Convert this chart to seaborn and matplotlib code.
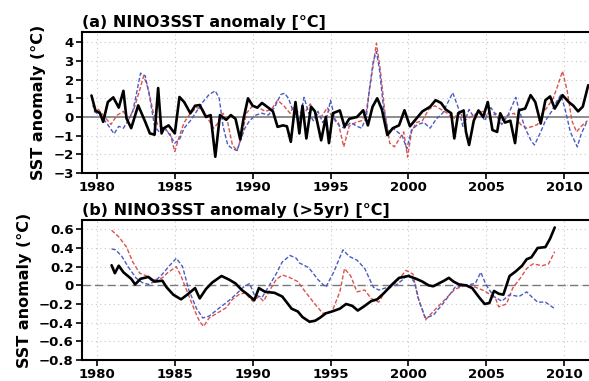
import numpy as np
import pandas as pd
import matplotlib
matplotlib.use("Agg")
import matplotlib.pyplot as plt
import seaborn as sns

# ---- panel (a): NINO3 SST anomaly ----
obs_a_year = [1979.65, 1979.9, 1980.2, 1980.4, 1980.7, 1981.05, 1981.4, 1981.7, 1981.9, 1982.2,
              1982.65, 1983.1, 1983.4, 1983.7, 1983.93, 1984.15, 1984.3, 1984.6, 1985.0, 1985.3,
              1985.6, 1986.0, 1986.3, 1986.6, 1987.0, 1987.3, 1987.6, 1987.9, 1988.3, 1988.6,
              1988.9, 1989.2, 1989.4, 1989.7, 1990.0, 1990.3, 1990.6, 1991.0, 1991.3, 1991.6,
              1991.95, 1992.2, 1992.45, 1992.75, 1993.0, 1993.2, 1993.45, 1993.75, 1994.0, 1994.4,
              1994.7, 1994.9, 1995.15, 1995.6, 1995.9, 1996.2, 1996.7, 1997.1, 1997.4, 1997.7,
              1998.0, 1998.3, 1998.65, 1999.0, 1999.4, 1999.75, 2000.1, 2000.5, 2000.9, 2001.4,
              2001.75, 2002.1, 2002.4, 2002.75, 2002.95, 2003.2, 2003.55, 2003.7, 2003.9, 2004.2,
              2004.5, 2004.8, 2005.1, 2005.4, 2005.7, 2005.9, 2006.2, 2006.55, 2006.85, 2007.1,
              2007.5, 2007.85, 2008.15, 2008.5, 2008.8, 2009.1, 2009.4, 2009.9, 2010.3, 2010.6,
              2010.9, 2011.2, 2011.55]
obs_a_sst = [1.15, 0.35, 0.2, -0.26, 0.8, 1.05, 0.5, 1.4, -0.08, -0.6,
             0.62, -0.26, -0.88, -0.95, 1.55, -0.88, -0.6, -0.45, -0.88, 1.07,
             0.8, 0.2, 0.6, 0.64, 0.0, 0.1, -2.13, 0.1, -0.15, 0.1,
             -0.1, -1.2, -0.15, 1.0, 0.6, 0.5, 0.75, 0.5, 0.3, -0.53,
             -0.45, -0.5, -1.33, 0.8, -0.88, 0.6, -1.15, 0.55, 0.3, -1.25,
             0.0, -1.4, 0.2, 0.35, -0.52, -0.1, 0.0, 0.36, -0.45, 0.55,
             1.0, 0.4, -0.97, -0.6, -0.45, 0.36, -0.5, -0.1, 0.3, 0.55,
             0.9, 0.75, 0.4, 0.2, -1.15, 0.2, 0.35, -0.8, -1.5, -0.2,
             0.35, 0.0, 0.8, -0.7, -0.8, 0.2, -0.3, -0.2, -1.4, 0.36,
             0.45, 1.17, 0.8, -0.35, 0.9, 1.1, 0.45, 1.17, 0.8, 0.6,
             0.3, 0.55, 1.7]

red_a_year = [1979.7, 1980.1, 1980.5, 1980.9, 1981.3, 1981.7, 1982.0, 1982.4, 1982.8, 1983.0,
              1983.3, 1983.6, 1983.9, 1984.3, 1984.7, 1985.0, 1985.3, 1985.6, 1986.0, 1986.4,
              1986.8, 1987.2, 1987.5, 1987.8, 1988.1, 1988.4, 1988.7, 1989.0, 1989.3, 1989.6,
              1990.0, 1990.4, 1990.8, 1991.2, 1991.6, 1992.0, 1992.4, 1992.6, 1993.0, 1993.4,
              1993.7, 1994.0, 1994.4, 1994.8, 1995.1, 1995.5, 1995.85, 1996.2, 1996.6, 1997.0,
              1997.3, 1997.6, 1997.95, 1998.2, 1998.5, 1998.8, 1999.1, 1999.4, 1999.7, 1999.95,
              2000.2, 2000.5, 2000.9, 2001.3, 2001.7, 2002.1, 2002.5, 2002.9, 2003.3, 2003.6,
              2004.0, 2004.4, 2004.8, 2005.2, 2005.6, 2006.0, 2006.4, 2006.8, 2007.2, 2007.6,
              2008.0, 2008.3, 2008.6, 2008.9, 2009.3, 2009.6, 2009.9, 2010.2, 2010.5, 2010.8,
              2011.1, 2011.5]
red_a_sst = [0.6, 0.4, 0.0, -0.4, 0.1, 0.3, -0.2, 0.5, 1.6, 2.2,
             1.5, 0.3, -0.4, -0.6, -0.9, -1.85, -1.0, -0.3, 0.2, 0.5,
             0.4, -0.2, -0.6, -0.3, 0.2, -0.3, -1.5, -1.8, -1.0, 0.2,
             0.6, 0.5, 0.3, 0.4, 0.9, 0.6, 0.2, 0.5, 0.2, 0.3,
             0.7, 0.2, 0.0, 0.5, 0.0, -0.3, -1.6, -0.5, -0.3, -0.2,
             0.3, 2.0, 3.95, 2.5, 0.2, -1.4, -1.6, -1.2, -0.8, -2.15,
             -0.8, -0.3, -0.2, 0.4, 0.6, 0.4, 0.2, -0.1, 0.3, -0.2,
             0.0, 0.2, 0.3, -0.1, 0.2, -0.2, 0.1, 0.2, -0.4, -0.6,
             -0.5, -0.4, 0.2, 0.5, 1.0, 1.7, 2.45, 1.4, -0.2, -0.8,
             -0.5, -0.2]

blue_a_year = [1979.8, 1980.2, 1980.6, 1981.1, 1981.4, 1981.7, 1982.0, 1982.3, 1982.55, 1982.8,
               1983.1, 1983.4, 1983.7, 1984.0, 1984.3, 1984.7, 1985.0, 1985.3, 1985.6, 1986.0,
               1986.4, 1986.8, 1987.2, 1987.6, 1987.85, 1988.1, 1988.4, 1988.7, 1989.0, 1989.2,
               1989.5, 1989.8, 1990.2, 1990.6, 1991.0, 1991.4, 1991.8, 1992.05, 1992.3, 1992.6,
               1993.0, 1993.3, 1993.6, 1993.9, 1994.2, 1994.5, 1994.8, 1995.0, 1995.3, 1995.6,
               1995.9, 1996.3, 1996.7, 1997.0, 1997.3, 1997.5, 1997.75, 1997.95, 1998.15, 1998.4,
               1998.7, 1999.0, 1999.3, 1999.6, 1999.9, 2000.2, 2000.6, 2001.0, 2001.4, 2001.8,
               2002.2, 2002.55, 2002.85, 2003.2, 2003.5, 2003.9, 2004.2, 2004.6, 2004.9, 2005.3,
               2005.7, 2006.0, 2006.4, 2006.9, 2007.1, 2007.5, 2007.9, 2008.1, 2008.5, 2008.8,
               2009.2, 2009.5, 2009.8, 2010.1, 2010.4, 2010.85, 2011.1, 2011.5]
blue_a_sst = [0.3, 0.1, -0.3, -0.9, -0.5, -0.6, -0.2, 0.3, 1.3, 2.35,
              2.2, 1.0, -0.5, -0.8, -0.5, -1.0, -1.4, -1.2, -0.6, -0.2,
              0.3, 0.8, 1.2, 1.4, 1.0, -0.5, -1.5, -1.7, -1.8, -1.3,
              -0.6, -0.2, 0.1, 0.2, 0.1, 0.5, 1.2, 1.27, 1.0, 0.3,
              -0.2, 1.05, 0.2, -0.2, 0.3, -0.3, 0.1, 0.9, -0.2, -0.5,
              -0.6, -0.3, -0.5, -0.6, 0.0, 1.5, 3.0, 3.5, 2.5, 0.5,
              -0.8, -0.6, -0.8, -1.0, -1.7, -0.7, -0.4, -0.3, -0.6, -0.1,
              0.2, 0.8, 1.3, 0.5, -0.5, 0.4, 0.0, 0.3, -0.2, 0.5,
              0.0, -0.4, 0.1, 1.05, 0.4, -0.6, -1.3, -1.5, -0.8, -0.2,
              0.3, 0.8, 1.2, 0.3, -0.8, -1.6, -0.9, -0.2]

# ---- panel (b): NINO3 SST anomaly, >5yr band ----
obs_b_year = [1980.94, 1981.15, 1981.4, 1981.7, 1982.2, 1982.45, 1982.8, 1983.3, 1983.7, 1984.2,
              1984.47, 1984.9, 1985.4, 1985.8, 1986.3, 1986.6, 1987.0, 1987.4, 1988.0, 1988.5,
              1988.9, 1989.3, 1989.7, 1990.1, 1990.4, 1990.8, 1991.4, 1991.9, 1992.5, 1992.9,
              1993.2, 1993.65, 1994.0, 1994.3, 1994.7, 1995.1, 1995.6, 1996.0, 1996.4, 1996.75,
              1997.2, 1997.6, 1998.0, 1998.45, 1998.9, 1999.4, 1999.7, 2000.0, 2000.5, 2000.9,
              2001.3, 2001.6, 2001.95, 2002.3, 2002.6, 2002.9, 2003.25, 2003.7, 2004.1, 2004.55,
              2004.9, 2005.2, 2005.5, 2005.8, 2006.1, 2006.5, 2006.9, 2007.3, 2007.6, 2007.9,
              2008.3, 2008.8, 2009.1, 2009.4]
obs_b_sst = [0.215, 0.13, 0.21, 0.14, 0.07, 0.01, 0.07, 0.09, 0.04, 0.05,
             -0.02, -0.1, -0.15, -0.1, -0.03, -0.14, -0.04, 0.03, 0.1, 0.06,
             0.02, -0.05, -0.1, -0.16, -0.03, -0.07, -0.08, -0.12, -0.25, -0.28,
             -0.34, -0.39, -0.38, -0.35, -0.3, -0.28, -0.25, -0.2, -0.22, -0.27,
             -0.22, -0.17, -0.15, -0.08, 0.0, 0.08, 0.09, 0.1, 0.07, 0.04,
             0.0, -0.01, 0.02, 0.05, 0.08, 0.04, 0.01, 0.0, -0.03, -0.13,
             -0.2, -0.19, -0.06, -0.09, -0.1, 0.1, 0.15, 0.21, 0.28, 0.3,
             0.4, 0.41, 0.5, 0.62]

red_b_year = [1980.94, 1981.4, 1981.9, 1982.3, 1982.75, 1983.2, 1983.5, 1984.2, 1984.5, 1985.1,
              1985.4, 1985.8, 1986.3, 1986.6, 1986.85, 1987.2, 1987.7, 1988.3, 1988.7, 1989.1,
              1989.5, 1990.0, 1990.4, 1990.7, 1991.0, 1991.5, 1991.9, 1992.3, 1992.9, 1993.2,
              1993.9, 1994.5, 1995.1, 1995.6, 1995.9, 1996.3, 1996.7, 1997.2, 1997.6, 1998.1,
              1998.45, 1999.2, 1999.85, 2000.3, 2000.6, 2000.9, 2001.1, 2001.6, 2002.3, 2003.0,
              2003.7, 2004.3, 2004.9, 2005.6, 2005.8, 2006.3, 2006.7, 2007.2, 2007.6, 2008.0,
              2008.6, 2009.0, 2009.4]
red_b_sst = [0.59, 0.52, 0.41, 0.25, 0.13, 0.1, 0.05, 0.08, 0.13, 0.2,
             0.1, -0.07, -0.28, -0.39, -0.44, -0.35, -0.3, -0.24, -0.15, -0.1,
             -0.08, -0.17, -0.12, -0.17, -0.08, 0.06, 0.11, 0.09, 0.04, -0.03,
             -0.18, -0.3, -0.28, -0.07, 0.18, 0.1, -0.07, -0.05, -0.14, -0.18,
             -0.08, 0.03, 0.16, 0.12, -0.12, -0.26, -0.37, -0.28, -0.16, -0.04,
             0.0, -0.02, -0.06, -0.14, -0.23, -0.2, -0.03, 0.08, 0.18, 0.23,
             0.21, 0.23, 0.36]

blue_b_year = [1980.94, 1981.2, 1981.6, 1982.0, 1982.5, 1982.9, 1983.3, 1983.7, 1984.2, 1984.6,
               1985.1, 1985.5, 1985.9, 1986.4, 1986.8, 1987.2, 1987.8, 1988.5, 1988.9, 1989.4,
               1989.8, 1990.1, 1990.6, 1991.0, 1991.5, 1991.9, 1992.4, 1992.8, 1993.0, 1993.6,
               1994.2, 1994.7, 1995.2, 1995.8, 1996.2, 1996.7, 1997.2, 1997.75, 1998.1, 1998.5,
               1999.2, 1999.7, 2000.0, 2000.4, 2000.7, 2001.1, 2001.6, 2002.3, 2003.0, 2003.7,
               2004.3, 2004.65, 2005.0, 2005.5, 2006.0, 2006.5, 2007.1, 2007.6, 2007.9, 2008.3,
               2008.8, 2009.4]
blue_b_sst = [0.39, 0.38, 0.31, 0.2, 0.08, 0.03, 0.01, 0.04, 0.12, 0.2,
              0.29, 0.2, -0.05, -0.25, -0.35, -0.33, -0.25, -0.16, -0.1, -0.02,
              0.02, -0.1, -0.13, -0.02, 0.12, 0.25, 0.32, 0.29, 0.24, 0.19,
              0.06, -0.02, 0.14, 0.38, 0.31, 0.27, 0.18, -0.02, -0.05, -0.03,
              0.0, 0.07, 0.12, 0.03, -0.18, -0.35, -0.32, -0.18, -0.02, 0.0,
              0.02, 0.14, 0.0, -0.12, -0.17, -0.1, -0.12, -0.07, -0.12, -0.18,
              -0.18, -0.25]

year_ticks = [1980, 1985, 1990, 1995, 2000, 2005, 2010]
ticks_a = [-3, -2, -1, 0, 1, 2, 3, 4]
labels_a = ["\u22123", "\u22122", "\u22121", "0", "1", "2", "3", "4"]
ticks_b = [-0.8, -0.6, -0.4, -0.2, 0, 0.2, 0.4, 0.6]
labels_b = ["\u22120.8", "\u22120.6", "\u22120.4", "\u22120.2", "0", "0.2", "0.4", "0.6"]

RED = "#d9534f"
BLUE = "#4a5cc4"

sns.set_theme(style="white")
plt.rcParams["font.family"] = ["DejaVu Sans"]
plt.rcParams["font.weight"] = "bold"
plt.rcParams["axes.labelweight"] = "bold"
plt.rcParams["text.color"] = "black"
plt.rcParams["axes.labelcolor"] = "black"

fig = plt.figure(figsize=(5.89, 3.81), dpi=100)
W, H = 589.0, 381.0
ax_a = fig.add_axes([82 / W, 1 - 173 / H, (W - 82) / W, 141 / H])
ax_b = fig.add_axes([82 / W, 1 - 360 / H, (W - 82) / W, 140 / H])


def draw_series(ax, year, vals, color, dashed, lw):
    df = pd.DataFrame({"year": year, "sst": vals})
    sns.lineplot(data=df, x="year", y="sst", ax=ax, color=color, lw=lw,
                 estimator=None, sort=False,
                 linestyle=(0, (3, 1.5)) if dashed else "-")


def style_axes(ax, ylim, yticks, ylabels, title):
    ax.set_xlim(1979.04, 2011.6)
    ax.set_ylim(*ylim)
    ax.set_xticks(year_ticks)
    ax.set_yticks(yticks)
    ax.set_yticklabels(ylabels)
    ax.grid(True, color="#c8c8c8", lw=0.8, linestyle=(0, (1, 3)))
    ax.set_axisbelow(True)
    for side in ["left", "top", "bottom"]:
        ax.spines[side].set_linewidth(1.5)
        ax.spines[side].set_color("black")
    ax.spines["right"].set_visible(False)
    ax.tick_params(axis="both", direction="out", length=4, width=1.2,
                   labelsize=9.5, colors="black", pad=2,
                   left=True, bottom=True)
    for lab in ax.get_xticklabels() + ax.get_yticklabels():
        lab.set_fontweight("bold")
    ax.set_xlabel("")
    ax.set_ylabel("SST anomaly (\u00b0C)", fontsize=11.5, fontweight="bold", labelpad=5)
    ax.text(0.0, 1.015, title, transform=ax.transAxes, ha="left", va="bottom",
            fontsize=11.5, fontweight="bold", color="black")


# panel (a)
ax_a.axhline(0, color="#7a7a7a", lw=1.2, zorder=1)
draw_series(ax_a, red_a_year, red_a_sst, RED, True, 1.0)
draw_series(ax_a, blue_a_year, blue_a_sst, BLUE, True, 1.0)
draw_series(ax_a, obs_a_year, obs_a_sst, "black", False, 1.9)
style_axes(ax_a, (-3, 4.55), ticks_a, labels_a, "(a) NINO3SST anomaly [\u00b0C]")

# panel (b)
ax_b.axhline(0, color="#7a7a7a", lw=1.0, linestyle=(0, (6, 3)), zorder=1)
draw_series(ax_b, red_b_year, red_b_sst, RED, True, 1.0)
draw_series(ax_b, blue_b_year, blue_b_sst, BLUE, True, 1.0)
draw_series(ax_b, obs_b_year, obs_b_sst, "black", False, 1.9)
style_axes(ax_b, (-0.8, 0.7), ticks_b, labels_b, "(b) NINO3SST anomaly (>5yr) [\u00b0C]")

fig.savefig("out.png", dpi=100)
